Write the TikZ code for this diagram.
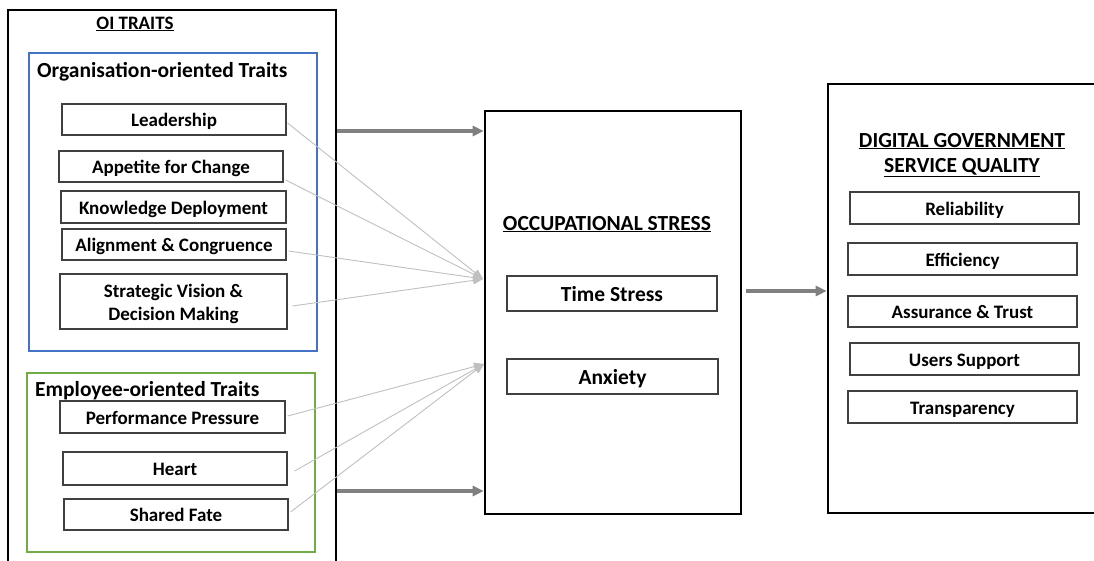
\documentclass[tikz,border=0pt]{standalone}
\usepackage{fontspec}
\setmainfont{Carlito}
\usetikzlibrary{arrows.meta,calc}
\definecolor{bluebox}{HTML}{4472C4}
\definecolor{greenbox}{HTML}{70AD47}
\definecolor{thickgray}{HTML}{808080}
\definecolor{thingray}{HTML}{C0C0C0}
\begin{document}
\begin{tikzpicture}[x=1pt,y=-1pt,
  item/.style={draw=black!75,line width=1.1pt,fill=white,font=\bfseries\fontsize{19}{23}\selectfont,align=center,inner sep=0,text height=18pt,text depth=4pt},
  bigitem/.style={item,font=\bfseries\fontsize{21.5}{25}\selectfont,text height=20pt,text depth=4pt},
  head/.style={font=\bfseries\fontsize{21.5}{26}\selectfont,align=center,inner sep=0},
  thickarrow/.style={draw=thickgray,line width=3.2pt,-{Triangle[length=11pt,width=10pt]}},
  thinarrow/.style={draw=thingray,line width=0.9pt,-{Triangle[length=10pt,width=8pt]}}]
\useasboundingbox (0,0) rectangle (1094,560);
\clip (0,0) rectangle (1094,560);
\fill[white] (0,0) rectangle (1094,560);
% outer boxes
\node[draw=black,line width=2.6pt,minimum width=328,minimum height=570,inner sep=0] (oi) at (172,295) {};
\node[draw=bluebox,line width=2.6pt,minimum width=288,minimum height=298,inner sep=0] (org) at (173,202) {};
\node[draw=greenbox,line width=2.6pt,minimum width=288,minimum height=179,inner sep=0] (emp) at (171,462.5) {};
\node[draw=black,line width=2.6pt,minimum width=256,minimum height=403,inner sep=0] (occ) at (613,312.5) {};
\node[draw=black,line width=2.6pt,minimum width=284,minimum height=429,inner sep=0] (dg) at (970,298.5) {};
% headings
\node[head,font=\bfseries\fontsize{19}{23}\selectfont,anchor=base] (oit) at (135,29) {\underline{OI TRAITS}};
\node[head,anchor=base west] (orgt) at (37,77) {Organisation-oriented Traits};
\node[head,anchor=base west] (empt) at (35,396.5) {Employee-oriented Traits};
\node[head,anchor=base] (occt) at (607,230) {\underline{OCCUPATIONAL STRESS}};
\node[head,anchor=base] (dgt1) at (962,147) {\underline{DIGITAL GOVERNMENT}};
\node[head,anchor=base] (dgt2) at (962,172.5) {\underline{SERVICE QUALITY}};
% organisation traits
\node[item,minimum width=224,minimum height=31] (lead) at (174,119.5) {Leadership};
\node[item,minimum width=224,minimum height=31] (app) at (171,166.5) {Appetite for Change};
\node[item,minimum width=225,minimum height=32] (know) at (173.5,207) {Knowledge Deployment};
\node[item,minimum width=224,minimum height=31] (align) at (174,244.5) {Alignment \& Congruence};
\node[item,minimum width=227,minimum height=55,text height={},text depth={},font=\bfseries\fontsize{19}{23.5}\selectfont] (strat) at (173.5,301.5) {\rule{0pt}{18pt}Strategic Vision \&\\Decision Making};
% employee traits
\node[item,minimum width=225,minimum height=32] (perf) at (172.5,417) {Performance Pressure};
\node[item,minimum width=224,minimum height=33] (heart) at (175,468.5) {Heart};
\node[item,minimum width=224,minimum height=31] (fate) at (176,514.5) {Shared Fate};
% occupational stress
\node[bigitem,minimum width=210,minimum height=35] (time) at (612,293.5) {Time Stress};
\node[bigitem,minimum width=211,minimum height=35] (anx) at (612.5,376.5) {Anxiety};
% service quality
\node[item,minimum width=229,minimum height=32] (rel) at (964.5,208) {Reliability};
\node[item,minimum width=229,minimum height=32] (eff) at (962.5,259) {Efficiency};
\node[item,minimum width=229,minimum height=31] (ass) at (962.5,311.5) {Assurance \& Trust};
\node[item,minimum width=229,minimum height=32] (usr) at (964.5,359) {Users Support};
\node[item,minimum width=229,minimum height=32] (tra) at (962.5,407) {Transparency};
% targets
\coordinate (torg) at (483,279);
\coordinate (temp) at (484,364);
% thin connectors
\draw[thinarrow] ($(lead.east)+(1,3.5)$) -- (torg);
\draw[thinarrow] ($(app.east)+(2,13.5)$) -- (torg);
\draw[thinarrow] ($(align.east)+(2,6.5)$) -- (torg);
\draw[thinarrow] ($(strat.east)+(5,4.5)$) -- (torg);
\draw[thinarrow] ($(perf.east)+(2,-1)$) -- (temp);
\draw[thinarrow] ($(heart.east)+(7,2.5)$) -- (temp);
\draw[thinarrow] ($(fate.east)+(2,-2.5)$) -- (temp);
% thick connectors
\draw[thickarrow] (oi.east |- 0,131) -- (occ.west |- 0,131);
\draw[thickarrow] (oi.east |- 0,491) -- (occ.west |- 0,491);
\draw[thickarrow] ($(occ.east |- 0,291)+(4,0)$) -- (dg.west |- 0,291);
\end{tikzpicture}
\end{document}
